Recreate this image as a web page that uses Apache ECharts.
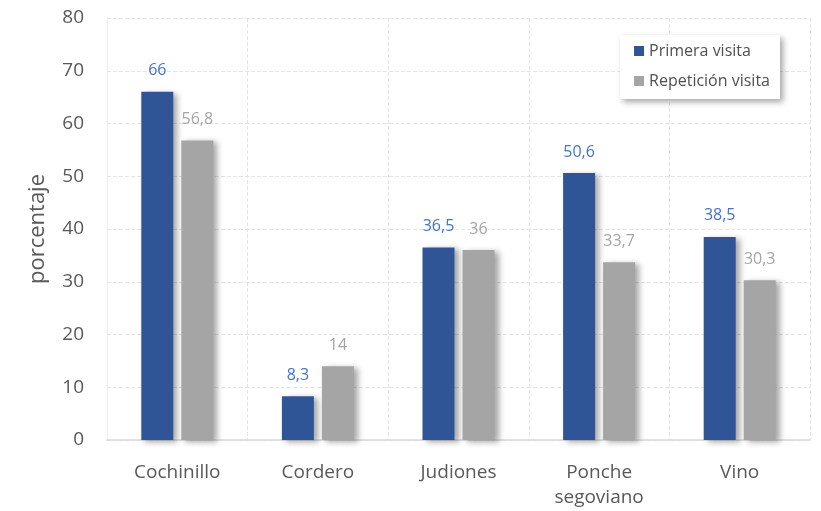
<!DOCTYPE html>
<html><head><meta charset="utf-8">
<script src="https://cdn.jsdelivr.net/npm/echarts@6/dist/echarts.min.js"></script>
<style>html,body{margin:0;padding:0;background:#fff}#c{width:821px;height:511px}</style>
</head><body><div id="c"></div>
<script>
const categories = ['Cochinillo', 'Cordero', 'Judiones', 'Ponche\nsegoviano', 'Vino'];
const primera = [66, 8.3, 36.5, 50.6, 38.5];
const repeticion = [56.8, 14, 36, 33.7, 30.3];
const seriesNames = ['Primera visita', 'Repetición visita'];
const yTicks = {min: 0, max: 80, interval: 10};

const font = '"Open Sans", sans-serif';
const chart = echarts.init(document.getElementById('c'));
const fmt = p => String(p.value).replace('.', ',');
const shadow = {shadowColor: 'rgba(0,0,0,0.35)', shadowBlur: 6, shadowOffsetX: 4, shadowOffsetY: 2};
chart.setOption({
  animation: false,
  grid: {left: 107, right: 11, top: 18, bottom: 71},
  legend: {
    orient: 'vertical', right: 41, top: 35,
    itemWidth: 10, itemHeight: 10, itemGap: 10, itemTextGap: 6,
    padding: [6, 10, 8, 14],
    backgroundColor: '#fff',
    shadowColor: 'rgba(0,0,0,0.35)', shadowBlur: 6, shadowOffsetX: 3, shadowOffsetY: 3,
    textStyle: {fontFamily: font, fontSize: 16, color: '#505050', lineHeight: 20},
    icon: 'rect',
    data: seriesNames
  },
  xAxis: {
    type: 'category', data: categories,
    axisLine: {lineStyle: {color: '#D9D9D9', width: 1.5}},
    axisTick: {show: false},
    splitLine: {show: true, lineStyle: {color: '#E4E4E4', type: 'dashed'}},
    axisLabel: {fontFamily: font, fontSize: 19, color: '#595959', margin: 20, lineHeight: 25, interval: 0}
  },
  yAxis: {
    type: 'value', min: yTicks.min, max: yTicks.max, interval: yTicks.interval,
    name: 'porcentaje', nameLocation: 'middle', nameGap: 58, nameRotate: 90,
    nameTextStyle: {fontFamily: font, fontSize: 22, color: '#595959'},
    axisLine: {show: true, lineStyle: {color: '#EDEDED'}},
    axisTick: {show: false},
    splitLine: {lineStyle: {color: '#E4E4E4', type: 'dashed'}},
    axisLabel: {fontFamily: font, fontSize: 19, color: '#595959', margin: 23}
  },
  series: [
    {name: seriesNames[0], type: 'bar', data: primera, barWidth: 32, barGap: '25%',
     itemStyle: Object.assign({color: '#2F5597'}, shadow),
     label: {show: true, position: 'top', distance: 13, formatter: fmt, fontFamily: font, fontSize: 16, color: '#4472C4'}},
    {name: seriesNames[1], type: 'bar', data: repeticion, barWidth: 32,
     itemStyle: Object.assign({color: '#A5A5A5'}, shadow),
     label: {show: true, position: 'top', distance: 13, formatter: fmt, fontFamily: font, fontSize: 16, color: '#A5A5A5'}}
  ]
});
</script></body></html>
